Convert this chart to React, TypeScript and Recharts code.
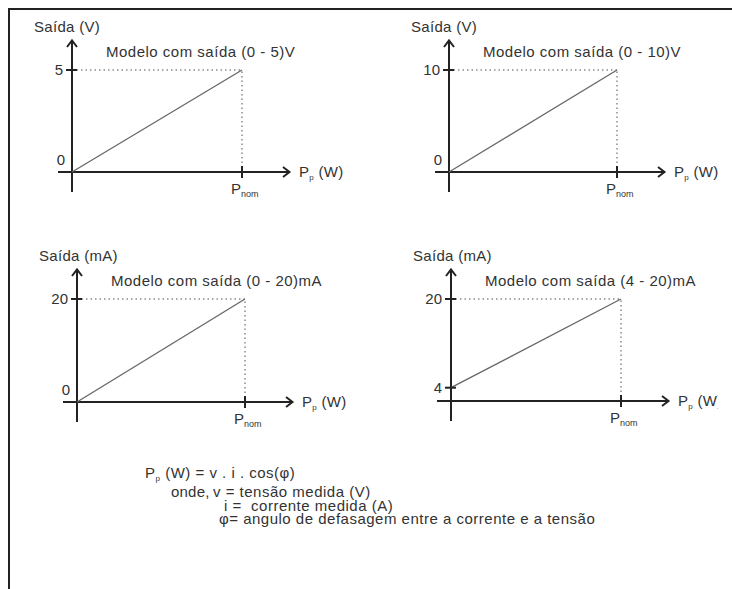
import { LineChart, Line, XAxis, YAxis, ReferenceLine } from "recharts";

// x positions: 0 and P_nom (normalised)
const potencia = [0, 1];
const pTicks = [1];

// output of each model at 0 and at P_nom
const saida05V = [0, 5];
const saida010V = [0, 10];
const saida020mA = [0, 20];
const saida420mA = [4, 20];

const ticks05V = [0, 5];
const ticks010V = [0, 10];
const ticks020mA = [0, 20];
const ticks420mA = [4, 20];

const titles = [
  "Modelo com saída (0 - 5)V",
  "Modelo com saída (0 - 10)V",
  "Modelo com saída (0 - 20)mA",
  "Modelo com saída (4 - 20)mA",
];
const yNames = ["Saída (V)", "Saída (V)", "Saída (mA)", "Saída (mA)"];

const FONT = '"Liberation Sans", Arial, Helvetica, sans-serif';
const INK = "#222";
const TEXT = "#333";

type PanelProps = {
  values: number[];
  ticks: number[];
  floor: number;
  title: string;
  yName: string;
  left: number;
  top: number;
  clipWidth?: number;
  yWidth: number;
  margin: { top: number; right: number; bottom: number };
};

function PLabel({ x, y, sub, subSize = 9 }: { x: number; y: number; sub: string; subSize?: number }) {
  return (
    <>
      <tspan x={x} y={y}>P</tspan>
      <tspan fontSize={subSize} dy={3}>{sub}</tspan>
    </>
  );
}

function Panel({ values, ticks, floor, title, yName, left, top, clipWidth = 366, yWidth, margin }: PanelProps) {
  const data = potencia.map((p, i) => ({ p, out: values[i] }));
  const pNom = potencia[potencia.length - 1];
  const full = values[values.length - 1];

  const yAxisShape = (props: any) => {
    const x = props.x1;
    const t = Math.min(props.y1, props.y2);
    const b = Math.max(props.y1, props.y2);
    const tip = t - 30;
    return (
      <g>
        <line x1={x} y1={b + 20} x2={x} y2={tip} stroke={INK} strokeWidth={2} />
        <path d={`M${x - 5},${tip + 7}L${x},${tip + 0.5}L${x + 5},${tip + 7}`} fill="none" stroke={INK} strokeWidth={2} />
        <text x={x - 38} y={tip - 8} fontFamily={FONT} fontSize={15} letterSpacing={0.3} fill={TEXT}>
          {yName}
        </text>
        <text x={x + 34} y={t - 13} fontFamily={FONT} fontSize={15} letterSpacing={0.5} fill={TEXT}>
          {title}
        </text>
      </g>
    );
  };

  const xAxisShape = (props: any) => {
    const y = props.y1;
    const l = Math.min(props.x1, props.x2);
    const r = Math.max(props.x1, props.x2);
    const tip = r + 48;
    return (
      <g>
        <line x1={l - 14} y1={y} x2={tip} y2={y} stroke={INK} strokeWidth={2} />
        <path d={`M${tip - 7},${y - 5}L${tip - 0.5},${y}L${tip - 7},${y + 5}`} fill="none" stroke={INK} strokeWidth={2} />
        <text fontFamily={FONT} fontSize={15} letterSpacing={0.3} fill={TEXT}>
          <PLabel x={tip + 9} y={y + 5} sub="p" subSize={8} />
          <tspan dy={-3}> (W)</tspan>
        </text>
      </g>
    );
  };

  const yTick = (props: any) => {
    const { x, y, payload } = props;
    const v = payload.value;
    return (
      <g>
        {v > 0 && <line x1={x - 6} y1={y} x2={x + 5} y2={y} stroke={INK} strokeWidth={2} />}
        <text
          x={v > 0 ? x - 9 : x - 7}
          y={v > 0 ? y + 5 : y - 7}
          textAnchor="end"
          fontFamily={FONT}
          fontSize={15}
          fill={TEXT}
        >
          {v}
        </text>
      </g>
    );
  };

  const xTick = (props: any) => {
    const { x, y } = props;
    return (
      <g>
        <line x1={x} y1={y - 6} x2={x} y2={y + 6} stroke={INK} strokeWidth={2} />
        <text fontFamily={FONT} fontSize={15} fill={TEXT}>
          <PLabel x={x - 11} y={y + 22} sub="nom" />
        </text>
      </g>
    );
  };

  return (
    <div style={{ position: "absolute", left, top, width: clipWidth, height: 220, overflow: "hidden" }}>
      <LineChart width={366} height={220} data={data} margin={{ left: 0, ...margin }}>
        <XAxis
          type="number"
          dataKey="p"
          domain={[0, pNom]}
          ticks={pTicks}
          axisLine={false}
          tickLine={false}
          tickSize={0}
          tickMargin={0}
          tick={xTick}
          height={30}
        />
        <YAxis
          type="number"
          domain={[floor, full]}
          ticks={ticks}
          axisLine={false}
          tickLine={false}
          tickSize={0}
          tickMargin={0}
          tick={yTick}
          width={yWidth}
        />
        <ReferenceLine
          segment={[{ x: 0, y: full }, { x: pNom, y: full }]}
          stroke="#8a8a8a"
          strokeWidth={1.5}
          strokeDasharray="1.5 3"
        />
        <ReferenceLine
          segment={[{ x: pNom, y: floor }, { x: pNom, y: full }]}
          stroke="#8a8a8a"
          strokeWidth={1.5}
          strokeDasharray="1.5 3"
        />
        <ReferenceLine y={floor} shape={xAxisShape} />
        <ReferenceLine x={0} shape={yAxisShape} />
        <Line
          type="linear"
          dataKey="out"
          stroke="#666"
          strokeWidth={1.3}
          dot={false}
          activeDot={false}
          isAnimationActive={false}
        />
      </LineChart>
    </div>
  );
}

export default function App() {
  const t = { fontFamily: FONT, fontSize: 15, letterSpacing: 0.5, fill: TEXT };
  return (
    <div style={{ position: "absolute", left: 0, top: 0, width: 732, height: 589, background: "#fff", overflow: "hidden" }}>
      <div
        style={{
          position: "absolute",
          left: 8,
          top: 8,
          width: 730,
          height: 590,
          borderTop: `2px solid ${INK}`,
          borderLeft: `2px solid ${INK}`,
        }}
      />
      <Panel values={saida05V} ticks={ticks05V} floor={0} title={titles[0]} yName={yNames[0]}
        left={0} top={0} yWidth={72} margin={{ top: 70, right: 124, bottom: 18 }} />
      <Panel values={saida010V} ticks={ticks010V} floor={0} title={titles[1]} yName={yNames[1]}
        left={366} top={0} clipWidth={352} yWidth={83} margin={{ top: 70, right: 115, bottom: 18 }} />
      <Panel values={saida020mA} ticks={ticks020mA} floor={0} title={titles[2]} yName={yNames[2]}
        left={0} top={220} yWidth={77} margin={{ top: 79, right: 121, bottom: 8 }} />
      <Panel values={saida420mA} ticks={ticks420mA} floor={1.6} title={titles[3]} yName={yNames[3]}
        left={366} top={220} clipWidth={352} yWidth={85} margin={{ top: 79, right: 111, bottom: 9 }} />
      <svg width={732} height={150} style={{ position: "absolute", left: 0, top: 440 }}>
        <text {...t}>
          <PLabel x={145} y={38} sub="p" subSize={8} />
          <tspan dy={-3}> (W) = v . i . cos(φ)</tspan>
        </text>
        <text {...t} letterSpacing={0.2} x={171} y={57}>onde,</text>
        <text {...t} x={213} y={57}>v = tensão medida (V)</text>
        <text {...t} x={224} y={71} xmlSpace="preserve">i =  corrente medida (A)</text>
        <text {...t} x={219} y={84}>φ= angulo de defasagem entre a corrente e a tensão</text>
      </svg>
    </div>
  );
}
